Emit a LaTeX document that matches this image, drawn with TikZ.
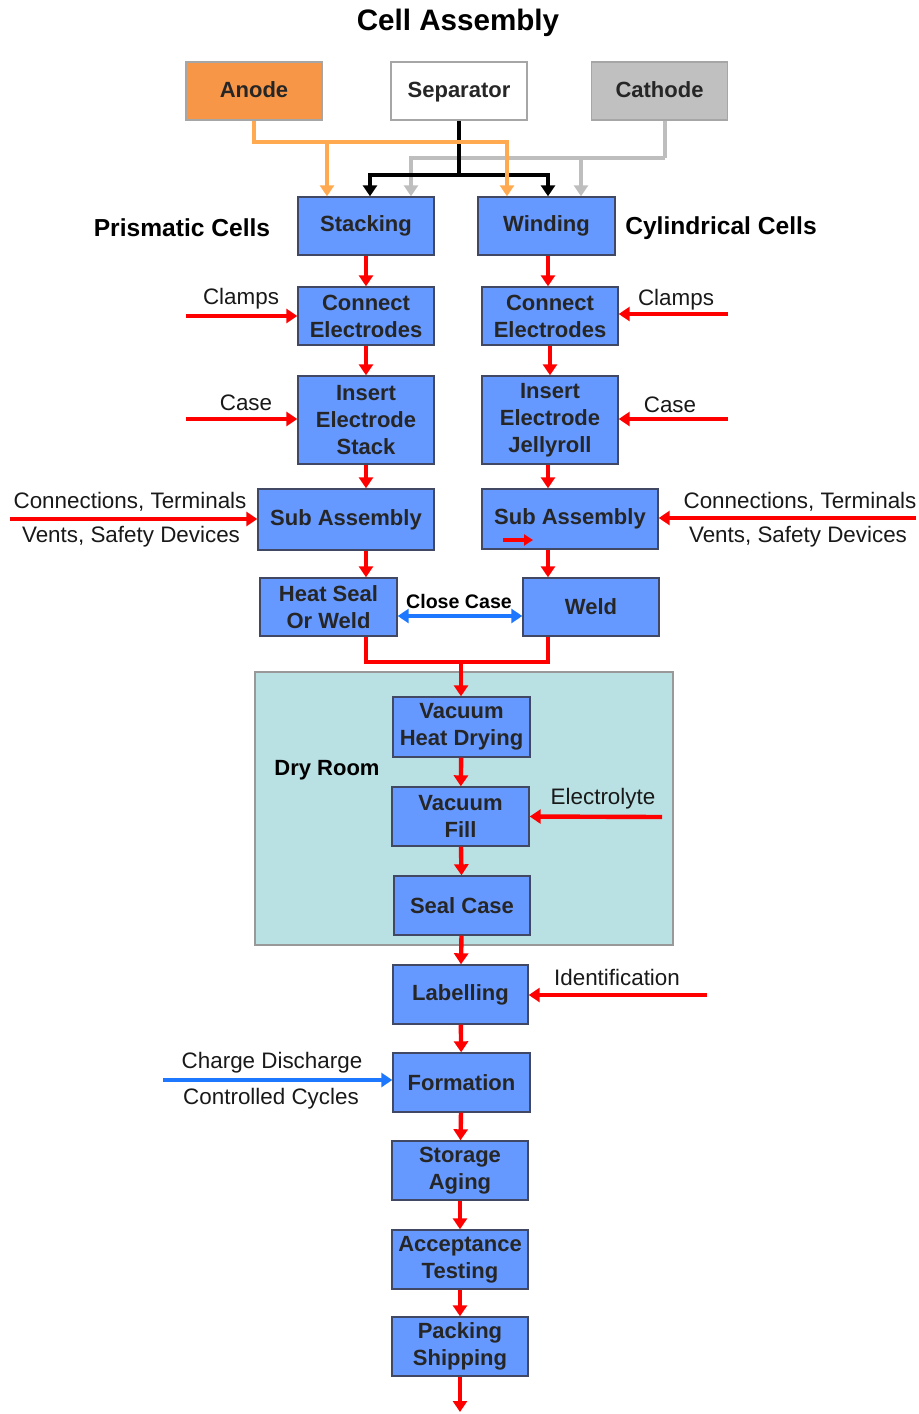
\documentclass[tikz,border=0pt]{standalone}
\usepackage{fontspec}
\setmainfont{Liberation Sans}
\usetikzlibrary{arrows.meta}
\definecolor{boxblue}{RGB}{102,153,255}
\definecolor{boxedge}{RGB}{64,72,100}
\definecolor{anodeorange}{RGB}{247,150,70}
\definecolor{orangeline}{RGB}{255,170,80}
\definecolor{cathodegray}{RGB}{192,192,192}
\definecolor{grayline}{RGB}{190,190,190}
\definecolor{dryteal}{RGB}{185,224,226}
\definecolor{flowred}{RGB}{255,0,0}
\definecolor{flowblue}{RGB}{30,120,255}
\tikzset{>={Triangle[length=5.5pt,width=7pt]}}
\tikzset{
  stepbox/.style={draw=boxedge,fill=boxblue,line width=0.7pt,align=center,inner sep=0pt,
    minimum width=68pt,minimum height=29pt,font=\fontsize{11}{13.5}\selectfont\bfseries,text=black!85},
  inbox/.style={draw=gray!70,line width=0.7pt,inner sep=0pt,minimum width=68pt,minimum height=29pt,
    text height=8pt,text depth=2pt,font=\fontsize{11}{12}\selectfont\bfseries,text=black!85},
  sidetxt/.style={font=\fontsize{11.2}{12}\selectfont,text=black!90,inner sep=0pt},
  redarrow/.style={draw=flowred,line width=2.2pt,->},
  redline/.style={draw=flowred,line width=2.2pt},
  bluearrow/.style={draw=flowblue,line width=2.2pt,->}
}
\begin{document}
\begin{tikzpicture}[x=0.5pt,y=-0.5pt]
\useasboundingbox (0,0) rectangle (919,1414);
\node[font=\fontsize{14.8}{16}\selectfont\bfseries] (title) at (458,23) {Cell Assembly};
% materials
\node[inbox,fill=anodeorange] (anode) at (254,91) {Anode};
\node[inbox,fill=white] (separator) at (459,91) {Separator};
\node[inbox,fill=cathodegray] (cathode) at (659.5,91) {Cathode};
\node[stepbox] (stacking) at (366,226) {Stacking};
\node[stepbox,minimum width=68.5pt] (winding) at (546.5,226) {Winding};
\node[font=\fontsize{12.3}{14}\selectfont\bfseries] (prism) at (182,228) {Prismatic Cells};
\node[font=\fontsize{12.3}{14}\selectfont\bfseries] (cyl) at (721,228) {Cylindrical Cells};
% feeds into stacking and winding
\coordinate (cathj) at ([xshift=2.75pt]cathode.south |- 0,158);
\coordinate (sepj) at (separator.south |- 0,175);
\coordinate (anj) at (anode.south |- 0,142);
\draw[draw=grayline,line width=2pt] ([xshift=2.75pt]cathode.south) -- (cathj);
\draw[draw=grayline,line width=2pt,->] (cathj) -| ([xshift=22.5pt]stacking.north);
\draw[draw=grayline,line width=2pt,->] ([xshift=17.25pt]winding.north |- cathj) -- ([xshift=17.25pt]winding.north);
\draw[line width=2pt] (separator.south) -- (sepj);
\draw[line width=2pt,->] (sepj) -| ([xshift=2pt]stacking.north);
\draw[line width=2pt,->] (sepj) -| ([xshift=0.75pt]winding.north);
\draw[draw=orangeline,line width=2pt,->] (anode.south) -- (anj) -| ([xshift=-19.75pt]winding.north);
\draw[draw=orangeline,line width=2pt,->] ([xshift=-19.5pt]stacking.north |- anj) -- ([xshift=-19.5pt]stacking.north);
% prismatic side
\node[stepbox] (connL) at (366,316) {Connect\\Electrodes};
\node[stepbox,minimum height=44pt] (insL) at (366,420) {Insert\\Electrode\\Stack};
\node[stepbox,minimum width=88pt,minimum height=30.5pt] (subL) at (346,519.5) {Sub Assembly};
\node[stepbox,minimum width=68.5pt] (heat) at (328.5,607) {Heat Seal\\Or Weld};
% cylindrical side
\node[stepbox] (connR) at (550,316) {Connect\\Electrodes};
\node[stepbox,minimum height=44pt] (insR) at (550,420) {Insert\\Electrode\\Jellyroll};
\node[stepbox,minimum width=88pt,minimum height=30pt] (subR) at (570,519) {Sub Assembly};
\node[stepbox] (weld) at (591,607) {Weld};
\draw[redarrow] (stacking) -- (connL);
\draw[redarrow] (connL) -- (insL);
\draw[redarrow] (insL.south) -- (insL.south |- subL.north);
\draw[redarrow] (insL.south |- subL.south) -- (insL.south |- heat.north);
\draw[redarrow] ([xshift=0.75pt]winding.south) -- ([xshift=0.75pt]winding.south |- connR.north);
\draw[redarrow] (connR) -- (insR);
\draw[redarrow] ([xshift=-1pt]insR.south) -- ([xshift=-1pt]insR.south |- subR.north);
\draw[redarrow] ([xshift=-1pt]insR.south |- subR.south) -- ([xshift=-1pt]insR.south |- weld.north);
% side inputs
\coordinate (clampL) at (186,316);
\coordinate (clampR) at (728,314);
\coordinate (caseL) at (186,419);
\coordinate (caseR) at (728,419);
\coordinate (partsL) at (10,519);
\coordinate (partsR) at (916,518);
\draw[redarrow] (clampL) -- (clampL -| connL.west);
\draw[redarrow] (clampR) -- (clampR -| connR.east);
\draw[redarrow] (caseL) -- (caseL -| insL.west);
\draw[redarrow] (caseR) -- (caseR -| insR.east);
\draw[redarrow] (partsL) -- (partsL -| subL.west);
\draw[redarrow] (partsR) -- (partsR -| subR.east);
\node[sidetxt] (clampLtxt) at (241,299) {Clamps};
\node[sidetxt] (clampRtxt) at (676,300) {Clamps};
\node[sidetxt] (caseLtxt) at (246,403) {Case};
\node[sidetxt] (caseRtxt) at (670,405) {Case};
\node[sidetxt] (partsLa) at (130,502) {Connections, Terminals};
\node[sidetxt] (partsLb) at (131,537) {Vents, Safety Devices};
\node[sidetxt] (partsRa) at (800,502) {Connections, Terminals};
\node[sidetxt] (partsRb) at (798,537) {Vents, Safety Devices};
\coordinate (stubA) at (503,540);
\coordinate (stubB) at (533,540);
\draw[draw=flowred,line width=2pt,-{Triangle[length=4.5pt,width=5.5pt]}] (stubA) -- (stubB);
% close case
\draw[bluearrow,<->] ([yshift=-4.5pt]heat.east) -- ([yshift=-4.5pt]weld.west);
\node[font=\fontsize{9.8}{11}\selectfont\bfseries,inner sep=0pt] (closetxt) at (459,601) {Close Case};
% dry room
\node[draw=gray!80,fill=dryteal,line width=0.7pt,minimum width=209pt,minimum height=136.5pt] (dry) at (464,808.5) {};
\node[font=\fontsize{11}{12}\selectfont\bfseries] (drytxt) at (327,770) {Dry Room};
\node[stepbox,minimum width=68.5pt,minimum height=30pt] (vhd) at (461.5,727) {Vacuum\\Heat Drying};
\node[stepbox,minimum width=68.5pt,minimum height=29.5pt] (vfill) at (460.5,816.5) {Vacuum\\Fill};
\node[stepbox,minimum height=29.5pt] (seal) at (462,905.5) {Seal Case};
\coordinate (mrg) at (461,662);
\draw[redline] (insL.south |- heat.south) |- (mrg) -| ([xshift=-1pt]insR.south |- weld.south);
\draw[redarrow] (mrg) -- (mrg |- vhd.north);
\draw[redarrow] (vhd) -- (vfill);
\draw[redarrow] (vfill) -- (seal);
\coordinate (elyte) at (662,817);
\draw[redarrow] (elyte) -- (vfill.east);
\node[sidetxt] (elytetxt) at (603,799) {Electrolyte};
% finishing
\node[stepbox,minimum width=67.5pt,minimum height=29.5pt] (labelling) at (460.5,994.5) {Labelling};
\node[stepbox,minimum width=68.5pt,minimum height=29.5pt] (formation) at (461.5,1082.5) {Formation};
\node[stepbox,minimum height=29.5pt] (storage) at (460,1170.5) {Storage\\Aging};
\node[stepbox,minimum height=29.5pt] (accept) at (460,1259.5) {Acceptance\\Testing};
\node[stepbox,minimum height=29.5pt] (packing) at (460,1346.5) {Packing\\Shipping};
\draw[redarrow] (seal) -- (labelling);
\draw[redarrow] (labelling) -- (formation);
\draw[redarrow] (formation) -- (storage);
\draw[redarrow] (storage) -- (accept);
\draw[redarrow] (accept) -- (packing);
\coordinate (outlet) at (packing.south |- 0,1412);
\draw[redarrow] (packing.south) -- (outlet);
\coordinate (ident) at (707,995);
\draw[redarrow] (ident) -- (ident -| labelling.east);
\node[sidetxt] (identtxt) at (617,977) {Identification};
\coordinate (cycles) at (163,1080);
\draw[bluearrow] (cycles) -- (cycles -| formation.west);
\node[sidetxt] (cyclesa) at (272,1063) {Charge Discharge};
\node[sidetxt] (cyclesb) at (271,1099) {Controlled Cycles};
\end{tikzpicture}
\end{document}
